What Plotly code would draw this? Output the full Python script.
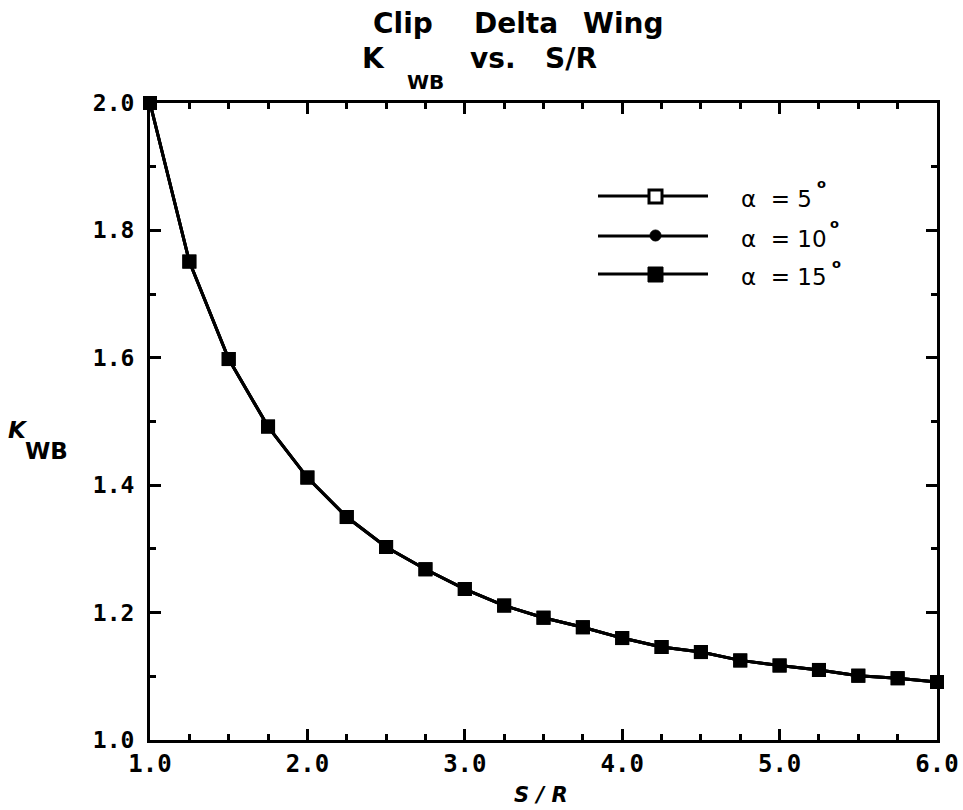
import plotly.graph_objects as go

# ---- data ----
s_over_r = [1.0, 1.25, 1.5, 1.75, 2.0, 2.25, 2.5, 2.75, 3.0, 3.25, 3.5,
            3.75, 4.0, 4.25, 4.5, 4.75, 5.0, 5.25, 5.5, 5.75, 6.0]
k_wb_5 = [2.000, 1.751, 1.598, 1.492, 1.412, 1.350, 1.303, 1.268, 1.237, 1.211, 1.192,
          1.177, 1.160, 1.146, 1.138, 1.125, 1.117, 1.110, 1.101, 1.097, 1.091]
k_wb_10 = [2.000, 1.751, 1.598, 1.492, 1.412, 1.350, 1.303, 1.268, 1.237, 1.211, 1.192,
           1.177, 1.160, 1.146, 1.138, 1.125, 1.117, 1.110, 1.101, 1.097, 1.091]
k_wb_15 = [2.000, 1.751, 1.598, 1.492, 1.412, 1.350, 1.303, 1.268, 1.237, 1.211, 1.192,
           1.177, 1.160, 1.146, 1.138, 1.125, 1.117, 1.110, 1.101, 1.097, 1.091]
x_tick_vals = [1.0, 2.0, 3.0, 4.0, 5.0, 6.0]
x_tick_text = ["1.0", "2.0", "3.0", "4.0", "5.0", "6.0"]
y_tick_vals = [1.0, 1.2, 1.4, 1.6, 1.8, 2.0]
y_tick_text = ["1.0", "1.2", "1.4", "1.6", "1.8", "2.0"]
legend_labels = ["\u03b1  = 5", "\u03b1  = 10", "\u03b1  = 15"]

SANS = "DejaVu Sans, sans-serif"
MONO = "DejaVu Sans Mono, monospace"

# body margin is removed in the page, so figure pixels == page pixels
W, H = 963, 810
L, T = 150, 103
R = W - 937
B = H - 740
PW, PH = W - L - R, H - T - B


def px(x):
    return (x - L) / PW


def py(y):
    return (740 - y) / PH


fig = go.Figure()
fig.add_trace(go.Scatter(x=s_over_r, y=k_wb_5, mode="lines+markers", name="\u03b1 = 5\u00b0",
                         line=dict(color="black", width=3),
                         marker=dict(symbol="square-dot", size=11, color="white",
                                     line=dict(color="black", width=3)),
                         cliponaxis=False))
fig.add_trace(go.Scatter(x=s_over_r, y=k_wb_10, mode="lines+markers", name="\u03b1 = 10\u00b0",
                         line=dict(color="black", width=3),
                         marker=dict(symbol="circle", size=10, color="black"),
                         cliponaxis=False))
fig.add_trace(go.Scatter(x=s_over_r, y=k_wb_15, mode="lines+markers", name="\u03b1 = 15\u00b0",
                         line=dict(color="black", width=3),
                         marker=dict(symbol="square", size=14, color="black"),
                         cliponaxis=False))

axis_common = dict(showline=True, linecolor="black", linewidth=3, mirror="allticks",
                   ticks="inside", tickcolor="black", tickwidth=3, ticklen=11,
                   showgrid=False, zeroline=False, ticklabeloverflow="allow",
                   automargin=False)

fig.update_xaxes(range=[1.0, 6.0], tickvals=x_tick_vals, ticktext=x_tick_text,
                 tickfont=dict(family=MONO, size=24, color="black", weight="bold"),
                 ticklabelstandoff=0,
                 minor=dict(dtick=0.25, ticks="inside", ticklen=6, tickwidth=3,
                            tickcolor="black", showgrid=False),
                 **axis_common)
fig.update_yaxes(range=[1.0, 2.0], tickvals=y_tick_vals, ticktext=y_tick_text,
                 tickfont=dict(family=MONO, size=23, color="black", weight="bold"),
                 ticklabelstandoff=8,
                 minor=dict(dtick=0.1, ticks="inside", ticklen=6, tickwidth=3,
                            tickcolor="black", showgrid=False),
                 **axis_common)


def ann(text, x, y, size, family=SANS, weight="normal", style="normal", xanchor="center"):
    return dict(text=text, x=px(x), y=py(y), xref="paper", yref="paper",
                xanchor=xanchor, yanchor="middle", showarrow=False,
                font=dict(family=family, size=size, color="black", weight=weight, style=style))


annotations = [
    # title line 1
    ann("Clip", 403, 23, 28, weight="bold"),
    ann("Delta", 516, 23, 28, weight="bold"),
    ann("Wing", 623, 23, 28, weight="bold"),
    # title line 2
    ann("K", 373, 58, 28, weight="bold"),
    ann("WB", 425, 82, 20, weight="bold"),
    ann("vs.", 493, 58, 28, weight="bold"),
    ann("S/R", 571, 58, 28, weight="bold"),
    # y-axis title
    ann("K", 18, 430, 23, weight="bold", style="italic"),
    ann("WB", 47, 451, 23, weight="bold"),
    # x-axis title
    ann("S / R", 541, 795, 21, weight="bold", style="italic"),
]

shapes = []
leg_y = [196, 236, 274]
sup_pos = [(821, 184), (834, 223), (836, 263)]
for yy, lab, (sx, sy) in zip(leg_y, legend_labels, sup_pos):
    shapes.append(dict(type="line", xref="paper", yref="paper",
                       x0=px(598), x1=px(708), y0=py(yy), y1=py(yy),
                       line=dict(color="black", width=3)))
    annotations.append(ann(lab, 739, yy + 3, 23, xanchor="left"))
    annotations.append(ann("o", sx, sy, 13, weight="bold"))

# legend symbols
shapes.append(dict(type="rect", xref="paper", yref="paper",
                   x0=px(649), x1=px(662), y0=py(190), y1=py(203),
                   fillcolor="white", line=dict(color="black", width=3)))
shapes.append(dict(type="circle", xref="paper", yref="paper",
                   x0=px(650), x1=px(661), y0=py(230), y1=py(241),
                   fillcolor="black", line=dict(color="black", width=1)))
shapes.append(dict(type="rect", xref="paper", yref="paper",
                   x0=px(648), x1=px(663), y0=py(267), y1=py(282),
                   fillcolor="black", line=dict(color="black", width=1)))

fig.update_layout(width=W, height=H, margin=dict(l=L, r=R, t=T, b=B),
                  plot_bgcolor="white", paper_bgcolor="white",
                  annotations=annotations, shapes=shapes, showlegend=False)

fig.write_html("out.html",
               config={"displayModeBar": False},
               post_script="document.body.style.margin='0px';"
                           "document.documentElement.style.overflow='hidden';")
